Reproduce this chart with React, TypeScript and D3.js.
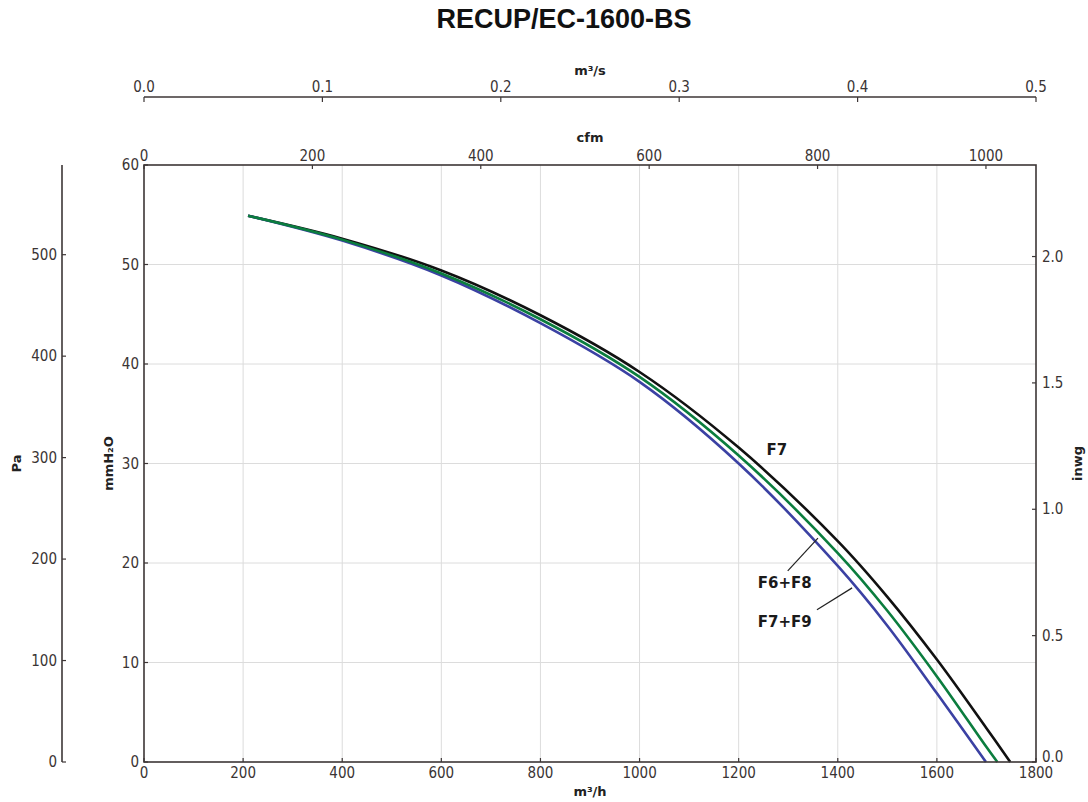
import React from "react";
import * as d3 from "d3";

const TITLE = "RECUP/EC-1600-BS";

// airflow (m³/h) vs static pressure (mmH2O)
const F7_Q = [210, 400, 600, 800, 1000, 1200, 1400, 1500, 1600, 1700, 1748];
const F7_P = [54.9, 52.6, 49.4, 44.9, 39.2, 31.6, 22.2, 16.6, 10.3, 3.4, 0];
const F6F8_Q = [210, 400, 600, 800, 1000, 1200, 1400, 1500, 1600, 1700, 1722];
const F6F8_P = [54.9, 52.5, 49.1, 44.5, 38.7, 30.8, 21.0, 15.2, 8.6, 1.5, 0];
const F7F9_Q = [210, 400, 600, 800, 1000, 1200, 1400, 1500, 1600, 1699];
const F7F9_P = [54.9, 52.4, 48.9, 44.1, 38.2, 30.0, 19.7, 13.7, 6.9, 0];

const X_TICKS = [0, 200, 400, 600, 800, 1000, 1200, 1400, 1600, 1800];
const Y_TICKS = [0, 10, 20, 30, 40, 50, 60];
const PA_TICKS = [0, 100, 200, 300, 400, 500];
const INWG_TICKS = [0, 0.5, 1.0, 1.5, 2.0];
const CFM_TICKS = [0, 200, 400, 600, 800, 1000];
const M3S_TICKS = [0, 0.1, 0.2, 0.3, 0.4, 0.5];

const SERIES = [
  { name: "F7", q: F7_Q, p: F7_P, color: "#111111" },
  { name: "F7+F9", q: F7F9_Q, p: F7F9_P, color: "#3b41a3" },
  { name: "F6+F8", q: F6F8_Q, p: F6F8_P, color: "#0b7d3e" },
];

const LABELS = [
  { text: "F7", q: 1277, p: 31.4, line: null as null | number[] },
  { text: "F6+F8", q: 1293, p: 18.0, line: [1299, 19.2, 1360, 22.5] },
  { text: "F7+F9", q: 1293, p: 14.1, line: [1358, 15.3, 1429, 17.5] },
];

const W = 1088, H = 802;
const L = 144, R = 1036, T = 165, B = 762;
const PA_X = 62;
const M3S_Y = 97;

const AXIS = "#3d3636";
const TXT = "#3a3434";
const TICKFONT = "'DejaVu Sans Condensed', 'DejaVu Sans', sans-serif";
const BOLDFONT = "'DejaVu Sans', sans-serif";

export default function App() {
  const x = d3.scaleLinear().domain([0, 1800]).range([L, R]);
  const y = d3.scaleLinear().domain([0, 60]).range([B, T]);
  const yPa = d3.scaleLinear().domain([0, 60 * 9.80665]).range([B, T]);
  const yIn = d3.scaleLinear().domain([0, 60 / 25.4]).range([B, T]);
  const xCfm = d3.scaleLinear().domain([0, 1800 / 1.699]).range([L, R]);
  const xM3s = d3.scaleLinear().domain([0, 0.5]).range([L, R]);

  const line = d3
    .line<[number, number]>()
    .x((d) => x(d[0]))
    .y((d) => y(d[1]))
    .curve(d3.curveCatmullRom.alpha(0.5));

  const tickText = {
    fontFamily: TICKFONT,
    fontStretch: "condensed" as const,
    fontSize: 15,
    fill: TXT,
  };
  const labelText = {
    fontFamily: BOLDFONT,
    fontWeight: 700,
    fontSize: 13,
    fill: "#222",
  };

  return (
    <svg
      width={W}
      height={H}
      style={{ position: "absolute", left: 0, top: 0, background: "#fff" }}
    >
      <rect x={0} y={0} width={W} height={H} fill="#fff" />
      <text
        x={564}
        y={28}
        textAnchor="middle"
        style={{
          fontFamily: "'Liberation Sans', Arial, sans-serif",
          fontWeight: 700,
          fontSize: 27,
          fill: "#111",
        }}
      >
        {TITLE}
      </text>

      {/* grid */}
      {X_TICKS.filter((t) => t > 0 && t < 1800).map((t) => (
        <line key={"gx" + t} x1={x(t)} x2={x(t)} y1={T} y2={B} stroke="#dcdcdc" strokeWidth={1} />
      ))}
      {Y_TICKS.filter((t) => t > 0 && t < 60).map((t) => (
        <line key={"gy" + t} x1={L} x2={R} y1={y(t)} y2={y(t)} stroke="#dcdcdc" strokeWidth={1} />
      ))}

      {/* curves */}
      {SERIES.map((s) => (
        <path
          key={s.name}
          d={line(s.q.map((q, i) => [q, s.p[i]] as [number, number])) || ""}
          fill="none"
          stroke={s.color}
          strokeWidth={2.6}
        />
      ))}

      {/* curve labels */}
      {LABELS.map((lb) => (
        <g key={lb.text}>
          {lb.line && (
            <line
              x1={x(lb.line[0])}
              y1={y(lb.line[1])}
              x2={x(lb.line[2])}
              y2={y(lb.line[3])}
              stroke="#222"
              strokeWidth={1.2}
            />
          )}
          <text
            x={x(lb.q)}
            y={y(lb.p)}
            textAnchor="middle"
            dominantBaseline="central"
            style={{ fontFamily: BOLDFONT, fontWeight: 700, fontSize: 15, fill: "#1a1a1a" }}
          >
            {lb.text}
          </text>
        </g>
      ))}

      {/* plot frame */}
      <rect x={L} y={T} width={R - L} height={B - T} fill="none" stroke={AXIS} strokeWidth={1.6} />

      {/* bottom axis m3/h */}
      {X_TICKS.map((t) => (
        <g key={"bx" + t}>
          <line x1={x(t)} x2={x(t)} y1={B} y2={B - 4} stroke={AXIS} strokeWidth={1.2} />
          <text x={x(t)} y={B + 11} textAnchor="middle" dominantBaseline="central" style={tickText}>
            {t}
          </text>
        </g>
      ))}
      <text x={(L + R) / 2} y={791} textAnchor="middle" dominantBaseline="central" style={labelText}>
        m³/h
      </text>

      {/* left mmH2O axis */}
      {Y_TICKS.map((t) => (
        <g key={"ly" + t}>
          <line x1={L} x2={L + 4} y1={y(t)} y2={y(t)} stroke={AXIS} strokeWidth={1.2} />
          <text x={L - 5} y={y(t)} textAnchor="end" dominantBaseline="central" style={tickText}>
            {t}
          </text>
        </g>
      ))}
      <text
        transform={`translate(108, ${(T + B) / 2}) rotate(-90)`}
        textAnchor="middle"
        dominantBaseline="central"
        style={labelText}
      >
        mmH₂O
      </text>

      {/* Pa axis */}
      <line x1={PA_X} x2={PA_X} y1={T} y2={B} stroke={AXIS} strokeWidth={1.6} />
      {PA_TICKS.map((t) => (
        <g key={"pa" + t}>
          <line x1={PA_X} x2={PA_X + 4} y1={yPa(t)} y2={yPa(t)} stroke={AXIS} strokeWidth={1.2} />
          <text x={PA_X - 5} y={yPa(t)} textAnchor="end" dominantBaseline="central" style={tickText}>
            {t}
          </text>
        </g>
      ))}
      <text
        transform={`translate(16, ${(T + B) / 2}) rotate(-90)`}
        textAnchor="middle"
        dominantBaseline="central"
        style={labelText}
      >
        Pa
      </text>

      {/* right inwg axis */}
      {INWG_TICKS.map((t) => (
        <g key={"in" + t}>
          <line x1={R} x2={R - 4} y1={yIn(t)} y2={yIn(t)} stroke={AXIS} strokeWidth={1.2} />
          <text
            x={R + 6}
            y={yIn(t) - (t === 0 ? 5 : 0)}
            textAnchor="start"
            dominantBaseline="central"
            style={tickText}
          >
            {t.toFixed(1)}
          </text>
        </g>
      ))}
      <text
        transform={`translate(1077, ${(T + B) / 2}) rotate(-90)`}
        textAnchor="middle"
        dominantBaseline="central"
        style={labelText}
      >
        inwg
      </text>

      {/* top cfm axis */}
      {CFM_TICKS.map((t) => (
        <g key={"cf" + t}>
          <line x1={xCfm(t)} x2={xCfm(t)} y1={T} y2={T + 4} stroke={AXIS} strokeWidth={1.2} />
          <text x={xCfm(t)} y={T - 9} textAnchor="middle" dominantBaseline="central" style={tickText}>
            {t}
          </text>
        </g>
      ))}
      <text x={(L + R) / 2} y={137} textAnchor="middle" dominantBaseline="central" style={labelText}>
        cfm
      </text>

      {/* top m3/s axis */}
      <line x1={L} x2={R} y1={M3S_Y} y2={M3S_Y} stroke={AXIS} strokeWidth={1.6} />
      {M3S_TICKS.map((t) => (
        <g key={"ms" + t}>
          <line x1={xM3s(t)} x2={xM3s(t)} y1={M3S_Y} y2={M3S_Y + 5} stroke={AXIS} strokeWidth={1.2} />
          <text x={xM3s(t)} y={M3S_Y - 10} textAnchor="middle" dominantBaseline="central" style={tickText}>
            {t.toFixed(1)}
          </text>
        </g>
      ))}
      <text x={(L + R) / 2} y={70} textAnchor="middle" dominantBaseline="central" style={labelText}>
        m³/s
      </text>
    </svg>
  );
}
